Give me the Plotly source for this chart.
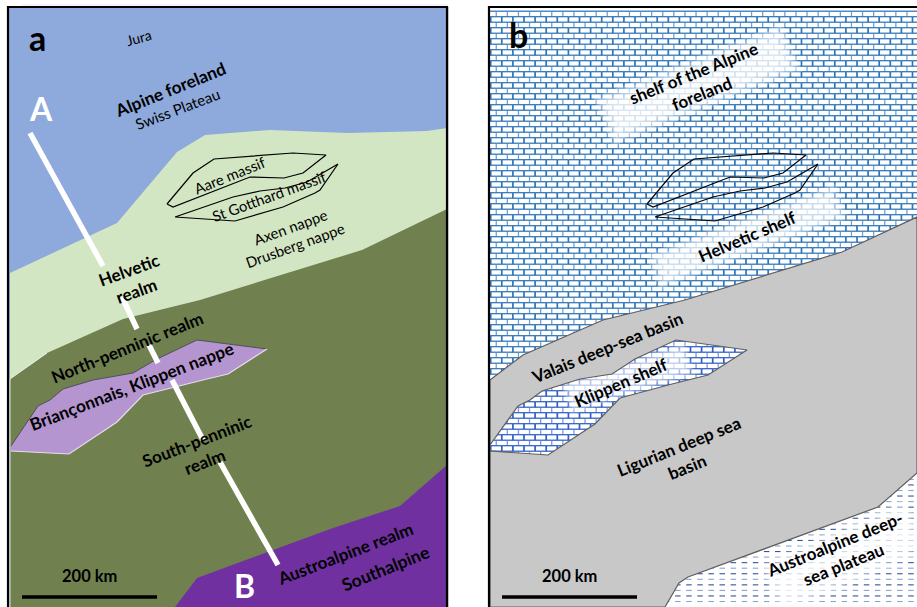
import numpy as np
import plotly.graph_objects as go

PANEL_A = (9, 447, 8, 607)
PANEL_B = (490, 917, 8, 607)
OFFSET_B = 480

# polygon outlines (image coordinates)
foothill_x = [10, 117, 177, 205, 270, 347, 427, 447, 447, 10]
foothill_y = [273, 223, 152, 135, 130, 133, 131, 128, 380, 380]
penninic_x = [10, 47, 123, 200, 362, 447, 447, 10]
penninic_y = [379, 353, 319, 300, 250, 209, 607, 607]
klippen_a_x = [11, 38, 50, 63, 93, 133, 157, 197, 267, 228, 207, 143, 117, 69, 11]
klippen_a_y = [446, 406, 400, 389, 380, 373, 359, 340, 349, 374, 379, 395, 422, 454, 451]
austro_x = [175, 197, 333, 400, 447, 447, 175]
austro_y = [607, 578, 528, 506, 465, 607, 607]
aare_x = [167, 193, 214, 293, 326, 303, 284, 250, 173, 167]
aare_y = [204, 173, 159, 153, 155, 173, 178, 177, 207, 204]
gotthard_x = [175, 233, 260, 285, 307, 338, 320, 315, 283, 235, 175]
gotthard_y = [217, 197, 191, 188, 182, 164, 190, 193, 207, 221, 217]

basin_top_x = [490, 523, 603, 685, 842, 917]
basin_top_y = [380, 355, 320, 300, 252, 217]
basin_low_x = [917, 878, 688, 679, 665]
basin_low_y = [473, 507, 577, 583, 607]
klippen_b_x = [490, 518, 530, 542, 580, 612, 635, 676, 747, 708, 672, 620, 595, 548, 490]
klippen_b_y = [445, 406, 400, 391, 379, 374, 359, 340, 350, 375, 384, 398, 424, 455, 451]

line_x = [[30, 103], [122, 137], [149, 158], [172, 203], [220, 278]]
line_y = [[133, 266], [297, 329], [345, 363], [380, 440], [462, 565]]

# (x ends, y ends, width, layer opacity)
glow_shelf = ([603, 792], [122, 47], 50, 0.27)
glow_helv = ([652, 842], [272, 201], 36, 0.23)
glow_klip = ([565, 690], [398, 358], 34, 0.2)
glow_plat = ([770, 917], [590, 525], 55, 0.25)

labels = [
    ("a", 37, 37, 0, 34, True, "black"),
    ("A", 41, 108, 0, 32, True, "white"),
    ("B", 244, 585, 0, 32, True, "white"),
    ("Jura", 139, 37, -15, 14, False, "black"),
    ("Alpine foreland", 170, 89, -22, 17.2, True, "black"),
    ("Swiss Plateau", 177, 109, -21, 15, False, "black"),
    ("Aare massif", 230, 175, -22, 14.8, False, "black"),
    ("St Gotthard massif", 269, 196, -20, 14.8, False, "black"),
    ("Axen nappe", 290, 227, -20, 14.8, False, "black"),
    ("Drusberg nappe", 295, 245, -20, 14.8, False, "black"),
    ("Helvetic<br>realm", 132, 280, -20, 17, True, "black"),
    ("North-penninic realm", 127, 347, -22, 17, True, "black"),
    ("Briançonnais, Klippen nappe", 131, 386, -21, 17.2, True, "black"),
    ("South-penninic<br>realm", 200, 451, -21, 17, True, "black"),
    ("Austroalpine realm", 345, 553, -21, 17, True, "black"),
    ("Southalpine", 385, 568, -22, 17.5, True, "black"),
    ("200 km", 89, 576, 0, 16.5, True, "black"),
    ("b", 518, 34, 0, 34, True, "black"),
    ("shelf of the Alpine<br>foreland", 697, 83, -22, 17, True, "black"),
    ("Helvetic shelf", 747, 236, -23, 17, True, "black"),
    ("Valais deep-sea basin", 607, 347, -22, 17, True, "black"),
    ("Klippen shelf", 621, 382, -23, 17, True, "black"),
    ("Ligurian deep sea<br>basin", 683, 456, -22, 17, True, "black"),
    ("Austroalpine deep-<br>sea plateau", 838, 554, -22, 17, True, "black"),
    ("200 km", 569, 576, 0, 16.5, True, "black"),
]

BLUE = "#8EA9DB"
LIGHT_GREEN = "#D3E6C3"
DARK_GREEN = "#70804F"
LILAC = "#B595CF"
PURPLE = "#7030A0"
GREY = "#C8C8C8"
BRICK = "#2E75B6"
BRICK_LIGHT = "#6FA3D6"
BRICK_K = "#2F5FC4"
BRICK_K_LIGHT = "#7E9BE0"

fig = go.Figure()


def poly(xs, ys, fill, line="rgba(0,0,0,0)", width=0):
    fig.add_trace(go.Scatter(x=xs, y=ys, mode="lines", fill="toself", fillcolor=fill,
                             line=dict(color=line, width=width), hoverinfo="skip"))


def path(xs, ys, color, width):
    fig.add_trace(go.Scatter(x=xs, y=ys, mode="lines",
                             line=dict(color=color, width=width, simplify=False),
                             hoverinfo="skip"))


def inside(px, py, xs, ys):
    hit = False
    n = len(xs)
    for i in range(n):
        j = (i + 1) % n
        if (ys[i] > py) != (ys[j] > py):
            if px < xs[i] + (py - ys[i]) * (xs[j] - xs[i]) / (ys[j] - ys[i]):
                hit = not hit
    return hit


# ---- panel a
x0, x1, y0, y1 = PANEL_A
poly([x0, x1, x1, x0, x0], [y0, y0, y1, y1, y0], BLUE)
poly(foothill_x, foothill_y, LIGHT_GREEN)
poly(penninic_x, penninic_y, DARK_GREEN)
path([penninic_x[1], penninic_x[0], penninic_x[0]], [penninic_y[1], penninic_y[0], penninic_y[-1]],
     "rgba(255,255,255,0.75)", 1)
poly(klippen_a_x, klippen_a_y, LILAC)
path(klippen_a_x[:9], klippen_a_y[:9], "#50505A", 1)
path(klippen_a_x[8:], klippen_a_y[8:], "#E6DDEE", 1.2)
poly(austro_x, austro_y, PURPLE)
for xs, ys in zip(line_x, line_y):
    path(xs, ys, "white", 5.5)
path(aare_x, aare_y, "black", 1.2)
path(gotthard_x, gotthard_y, "black", 1.2)

# ---- panel b
x0, x1, y0, y1 = PANEL_B
poly([x0, x1, x1, x0, x0], [y0, y0, y1, y1, y0], "white")

hull_x = basin_top_x + basin_low_x + [490]
hull_y = basin_top_y + basin_low_y + [607]
row_h = 5.5
brick_w = 11.1
hor = {False: ([], []), True: ([], [])}
dark = {False: ([], []), True: ([], [])}
light = {False: ([], []), True: ([], [])}
for r, yr in enumerate(np.arange(11.2, y1, row_h)):
    # odd rows start a dark-walled course, even rows a light-walled one
    is_dark = r % 2 == 1
    shift = 0.7 if is_dark else 6.25
    xe = np.arange(x0 - brick_w + shift, x1 + brick_w, brick_w)
    for a, b in zip(xe[:-1], xe[1:]):
        a2, b2 = max(a, x0), min(b, x1)
        if b2 <= a2:
            continue
        k = inside((a2 + b2) / 2, yr, hull_x, hull_y)
        hor[k][0].extend([a2, b2, None])
        hor[k][1].extend([yr, yr, None])
        if x0 <= a <= x1:
            k2 = inside(a, yr + row_h / 2, hull_x, hull_y)
            store = dark if is_dark else light
            store[k2][0].extend([a, a, None])
            store[k2][1].extend([yr, min(yr + row_h, y1), None])
for k, c_d, c_l in ((False, BRICK, BRICK_LIGHT), (True, BRICK_K, BRICK_K_LIGHT)):
    path(light[k][0], light[k][1], c_l, 1.3)
    path(hor[k][0], hor[k][1], c_d, 1.25)
    path(dark[k][0], dark[k][1], c_d, 1.7)

# Austroalpine plateau: white ground with dashes
plat_x = basin_low_x + [917]
plat_y = basin_low_y + [607]
poly(plat_x, plat_y, "white")
for r, yr in enumerate(np.arange(y1 - 5.5 * 1, 465, -5.55)):
    col = "#2F5597" if r % 2 else "#8FA2C9"
    dx, dy = [], []
    for a in np.arange(664, 917, 11.1):
        dx += [a, a + 5.5, None]
        dy += [yr, yr, None]
    path(dx, dy, col, 1.1)

# soft white patches behind the labels
for gx, gy, gw, gop in (glow_shelf, glow_helv, glow_klip, glow_plat):
    gx, gy = np.array(gx, float), np.array(gy, float)
    ux, uy = (gx[1] - gx[0]), (gy[1] - gy[0])
    for f, s in ((1.05, 0.0), (0.92, 0.015), (0.8, 0.03), (0.68, 0.045), (0.55, 0.06)):
        path([gx[0] + s * ux, gx[1] - s * ux], [gy[0] + s * uy, gy[1] - s * uy],
             f"rgba(255,255,255,{gop})", gw * f)

# deep-sea basin: outline runs round the Klippen shelf
gx = basin_top_x + basin_low_x + [490] + klippen_b_x[::-1] + [490]
gy = basin_top_y + basin_low_y + [607] + klippen_b_y[::-1] + [380]
poly(gx, gy, GREY, "#5F5F5F", 1.2)

path([v + OFFSET_B for v in aare_x], aare_y, "black", 1.2)
path([v + OFFSET_B for v in gotthard_x], gotthard_y, "black", 1.2)

# scale bars and frames
path([22, 157], [597, 597], "black", 3.5)
path([502, 637], [597, 597], "black", 3.5)
path([8, 8, 447, 447], [607, 7, 7, 607], "black", 2.2)
path([448.5, 448.5], [7, 607], "#BFBFBF", 1)
path([489, 489, 917], [607, 7, 7], "black", 2.2)
path([22, 448], [5, 5], "#DDE6F5", 0.8)

anns = []
for text, x, y, ang, size, bold, col in labels:
    anns.append(dict(
        text=f"<b>{text}</b>" if bold else text, x=x, y=y, xref="x", yref="y",
        showarrow=False, textangle=ang, xanchor="center", yanchor="middle",
        font=dict(family="Lato", size=size, color=col),
    ))

fig.update_layout(
    width=917, height=607, margin=dict(l=0, r=0, t=0, b=0),
    paper_bgcolor="white", plot_bgcolor="white", showlegend=False,
    xaxis=dict(range=[0, 917], visible=False, fixedrange=True),
    yaxis=dict(range=[607, 0], visible=False, fixedrange=True),
    annotations=anns,
)
fig.write_html("out.html", config={"displayModeBar": False},
               post_script="document.body.style.margin='0';")
